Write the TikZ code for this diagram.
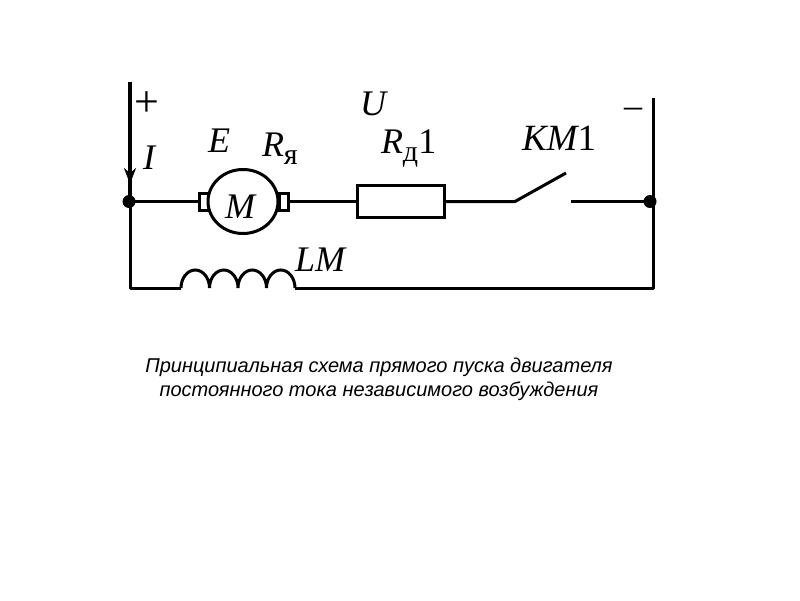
\documentclass[tikz,border=0pt]{standalone}
\usepackage{fontspec}
\setmainfont{Liberation Serif}
\setsansfont{Liberation Sans}
\usetikzlibrary{arrows.meta,shapes.geometric}
\tikzset{
wire/.style={line width=3pt},
bus/.style={line width=4pt},
part/.style={draw,line width=3pt,inner sep=0pt,outer sep=0pt},
lab/.style={inner sep=0pt,outer sep=0pt,anchor=base west,font=\fontsize{36}{36}\selectfont\itshape},
dot/.style={circle,fill=black,inner sep=0pt,outer sep=0pt,minimum size=13pt},
}
\newcommand{\low}[1]{\raisebox{-8pt}{\upshape\fontsize{30}{30}\selectfont #1}}
\begin{document}
\begin{tikzpicture}[x=1pt,y=-1pt]
\useasboundingbox (0,0) rectangle (800,600);
\coordinate (lt) at (130,82);
\coordinate (lb) at (130,288);
\coordinate (rt) at (653,98);
\coordinate (rb) at (653,288);
\coordinate (tip) at (130,184);
% motor
\node[part,minimum width=10pt,minimum height=17pt] (bl) at (204,201.5) {};
\node[part,minimum width=9pt,minimum height=17pt] (br) at (284,201.5) {};
\node[part,fill=white,ellipse,minimum width=70pt,minimum height=64pt] (mot) at (243,201.5) {};
\node[part,minimum width=87pt,minimum height=32pt] (res) at (400.5,201.5) {};
% switch
\coordinate (sa) at (515,201.5);
\coordinate (sb) at (566,173);
\coordinate (sc) at (571,201.5);
\coordinate (la) at (181,288);
\coordinate (lz) at (295,288);
\node[dot] (jl) at (129,201.5) {};
\node[dot] (jr) at (650,201.5) {};
\draw[bus] (lt) -- (jl.center -| lt);
\draw[bus,-{Stealth[length=16pt,width=12pt]}] (lt) -- (tip);
\draw[wire] (jl.center) -- (bl.west);
\draw[wire] (br.east) -- (res.west);
\draw[wire] (res.east) -- (sa) -- (sb);
\draw[wire] (sc) -- (jr.center);
\draw[wire,line join=round] (jl.center -| lb) -- (lb) -- (la);
\draw[wire,line join=round] (lz) -- (rb) -- (rt);
% coil
\draw[wire] (la) \foreach \i in {1,...,4}{arc[start angle=180,end angle=0,x radius=14.25pt,y radius=18pt]};
\node[lab] (plus) at (134,116) {\upshape\fontsize{44}{44}\selectfont +};
\node[lab] (minus) at (624,117) {\upshape –};
\node[lab] (cur) at (143,169) {I};
\node[lab] (emf) at (208,152) {E};
\node[lab] (ra) at (262,156) {R\low{я}};
\node[lab] (mm) at (225,218) {M};
\node[lab] (volt) at (360,115) {U};
\node[lab] (rd) at (381,153) {R\low{д}\upshape 1};
\node[lab,font=\fontsize{37}{37}\selectfont\itshape] (km) at (522,150) {KM\upshape 1};
\node[lab] (lm) at (295,271) {LM};
\node[inner sep=0pt,align=center,font=\sffamily\itshape\fontsize{20}{24}\selectfont] (cap) at (379,379) {Принципиальная схема прямого пуска двигателя\\постоянного тока независимого возбуждения};
\end{tikzpicture}
\end{document}
